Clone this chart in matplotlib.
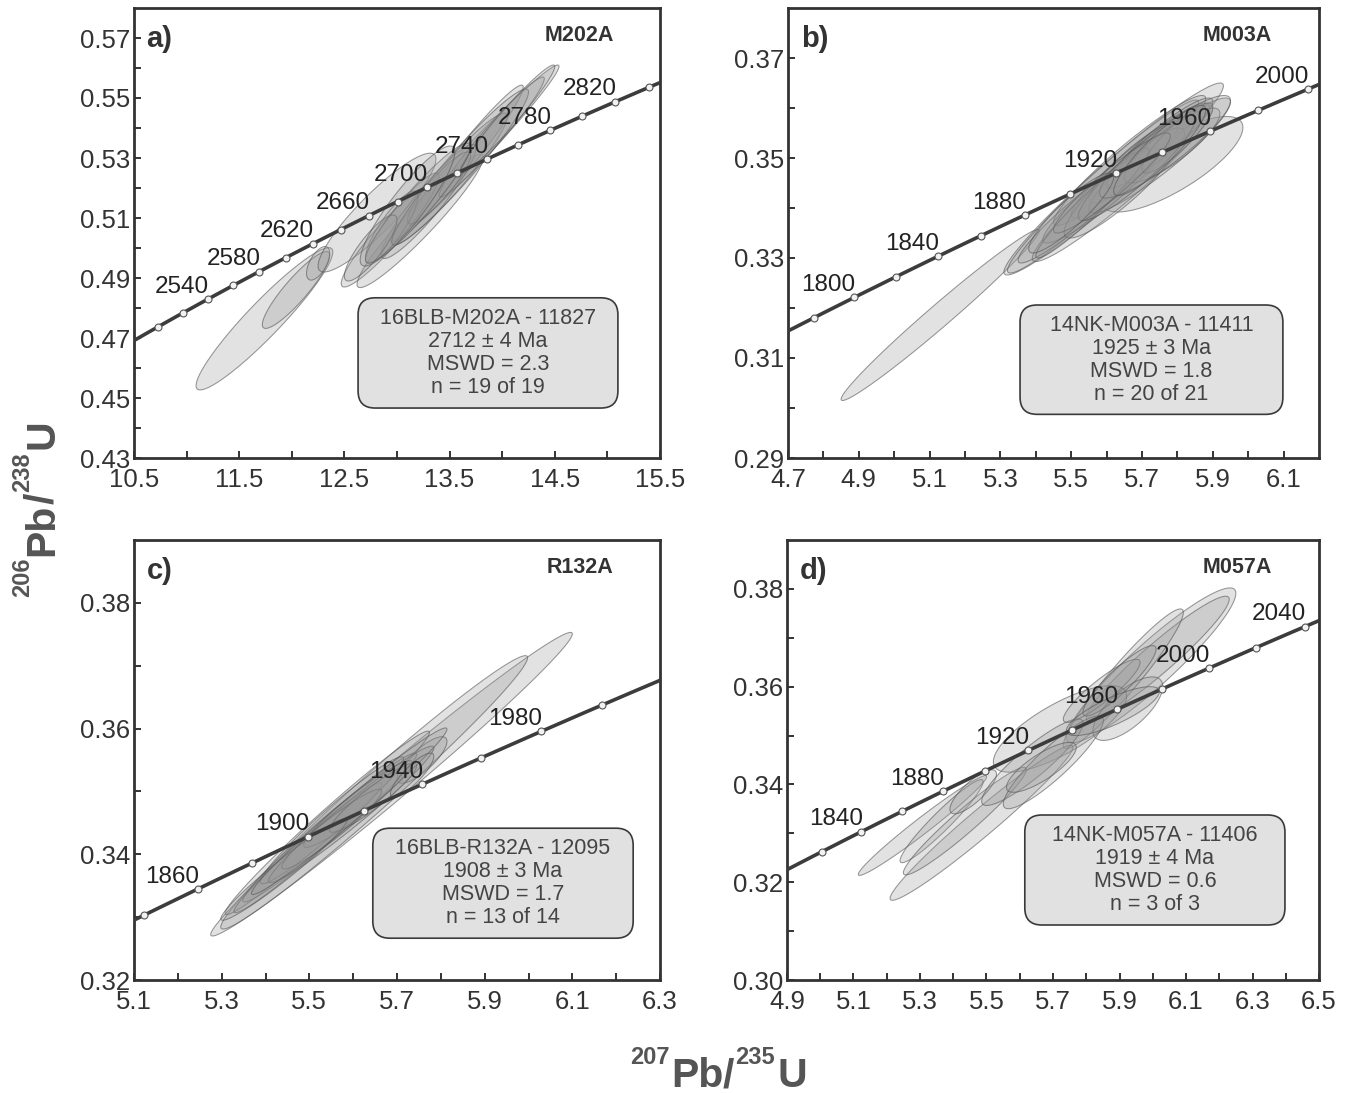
import numpy as np
import matplotlib
matplotlib.use("Agg")
import matplotlib.pyplot as plt
from matplotlib.patches import Polygon, FancyBboxPatch

plt.rcParams['font.family'] = ['Liberation Sans', 'DejaVu Sans']

# decay constants (per Ma)
L238 = 1.55125e-4
L235 = 9.8485e-4

# ---------------- panel a ----------------
a_xlim = (10.5, 15.5)
a_ylim = (0.43, 0.58)
a_xticks = [10.5, 11.5, 12.5, 13.5, 14.5, 15.5]
a_xminor = [11.0, 12.0, 13.0, 14.0, 15.0]
a_yticks = [0.43, 0.45, 0.47, 0.49, 0.51, 0.53, 0.55, 0.57]
a_yminor = [0.44, 0.46, 0.48, 0.50, 0.52, 0.54, 0.56]
a_marker_ages = [2500, 2520, 2540, 2560, 2580, 2600, 2620, 2640, 2660, 2680,
                 2700, 2720, 2740, 2760, 2780, 2800, 2820, 2840]
a_label_ages = [2540, 2580, 2620, 2660, 2700, 2740, 2780, 2820]
a_curve_ages = (2450, 2900)
a_ex = [11.74, 12.04, 12.25, 12.81, 12.89, 13.22, 13.74, 13.66, 13.50, 13.30,
        13.05, 13.90, 13.40, 12.95, 13.60, 14.05, 13.20, 12.75, 13.10]
a_esx = [0.65, 0.32, 0.11, 0.56, 0.42, 0.60, 0.80, 0.54, 0.55, 0.45,
         0.35, 0.50, 0.30, 0.25, 0.65, 0.45, 0.50, 0.25, 0.45]
a_ey = [0.4764, 0.4860, 0.4949, 0.5118, 0.5035, 0.5090, 0.5315, 0.5308, 0.5230, 0.5155,
        0.5100, 0.5370, 0.5200, 0.5070, 0.5270, 0.5430, 0.5150, 0.5000, 0.5140]
a_esy = [0.0237, 0.0128, 0.0056, 0.0198, 0.0165, 0.0222, 0.0295, 0.0235, 0.0220, 0.0190,
         0.0150, 0.0200, 0.0120, 0.0120, 0.0260, 0.0180, 0.0200, 0.0110, 0.0200]
a_rho = [0.94, 0.90, 0.60, 0.90, 0.93, 0.95, 0.985, 0.97, 0.95, 0.93,
         0.92, 0.97, 0.90, 0.85, 0.96, 0.97, 0.94, 0.85, 0.90]
a_tag = "a)"
a_sample = "M202A"
a_box_lines = ["16BLB-M202A - 11827", "2712 \u00b1 4 Ma", "MSWD = 2.3", "n = 19 of 19"]

# ---------------- panel b ----------------
b_xlim = (4.7, 6.2)
b_ylim = (0.29, 0.38)
b_xticks = [4.7, 4.9, 5.1, 5.3, 5.5, 5.7, 5.9, 6.1]
b_xminor = [4.8, 5.0, 5.2, 5.4, 5.6, 5.8, 6.0]
b_yticks = [0.29, 0.31, 0.33, 0.35, 0.37]
b_yminor = [0.30, 0.32, 0.34, 0.36]
b_marker_ages = [1780, 1800, 1820, 1840, 1860, 1880, 1900, 1920, 1940, 1960, 1980, 2000]
b_label_ages = [1800, 1840, 1880, 1920, 1960, 2000]
b_curve_ages = (1700, 2060)
b_ex = [5.13, 5.7855, 5.62, 5.59, 5.645, 5.665, 5.695, 5.675, 5.585, 5.525, 5.75,
        5.75, 5.65, 5.785, 5.56, 5.80, 5.685, 5.765, 5.615, 5.75, 5.50]
b_esx = [0.28, 0.1995, 0.31, 0.27, 0.255, 0.215, 0.195, 0.125, 0.165, 0.175, 0.20,
         0.15, 0.17, 0.135, 0.16, 0.10, 0.165, 0.185, 0.165, 0.13, 0.12]
b_ey = [0.3186, 0.34875, 0.3458, 0.3443, 0.3449, 0.3495, 0.3495, 0.3490, 0.3425, 0.3395, 0.3505,
        0.3530, 0.3450, 0.3525, 0.3410, 0.3540, 0.3480, 0.35225, 0.3450, 0.3515, 0.3390]
b_esy = [0.0171, 0.00955, 0.0192, 0.0173, 0.0156, 0.0130, 0.0115, 0.0080, 0.0095, 0.0105, 0.0115,
         0.0090, 0.0110, 0.0075, 0.0110, 0.0070, 0.0105, 0.01025, 0.0100, 0.0090, 0.0080]
b_rho = [0.985, 0.77, 0.97, 0.97, 0.96, 0.95, 0.94, 0.90, 0.93, 0.95, 0.93,
         0.92, 0.90, 0.85, 0.96, 0.88, 0.92, 0.90, 0.94, 0.90, 0.90]
b_tag = "b)"
b_sample = "M003A"
b_box_lines = ["14NK-M003A - 11411", "1925 \u00b1 3 Ma", "MSWD = 1.8", "n = 20 of 21"]

# ---------------- panel c ----------------
c_xlim = (5.1, 6.3)
c_ylim = (0.32, 0.39)
c_xticks = [5.1, 5.3, 5.5, 5.7, 5.9, 6.1, 6.3]
c_xminor = [5.2, 5.4, 5.6, 5.8, 6.0, 6.2]
c_yticks = [0.32, 0.34, 0.36, 0.38]
c_yminor = [0.33, 0.35, 0.37]
c_marker_ages = [1840, 1860, 1880, 1900, 1920, 1940, 1960, 1980, 2000]
c_label_ages = [1860, 1900, 1940, 1980]
c_curve_ages = (1800, 2060)
c_ex = [5.6875, 5.648, 5.757, 5.541, 5.5465, 5.4965, 5.5515, 5.5955, 5.611, 5.551,
        5.6455, 5.442, 5.591, 5.7345]
c_esx = [0.4125, 0.350, 0.057, 0.233, 0.1985, 0.1685, 0.1635, 0.1885, 0.124, 0.114,
         0.0995, 0.144, 0.223, 0.0495]
c_ey = [0.35115, 0.34985, 0.3550, 0.3450, 0.34425, 0.34105, 0.3454, 0.34635, 0.3480, 0.3440,
        0.3490, 0.3376, 0.34685, 0.3526]
c_esy = [0.02415, 0.02175, 0.0037, 0.0146, 0.01185, 0.01035, 0.0101, 0.01085, 0.0069, 0.00635,
         0.0055, 0.0081, 0.01325, 0.0035]
c_rho = [0.99, 0.985, 0.80, 0.985, 0.98, 0.98, 0.97, 0.975, 0.95, 0.95,
         0.93, 0.97, 0.985, 0.85]
c_tag = "c)"
c_sample = "R132A"
c_box_lines = ["16BLB-R132A - 12095", "1908 \u00b1 3 Ma", "MSWD = 1.7", "n = 13 of 14"]

# ---------------- panel d ----------------
d_xlim = (4.9, 6.5)
d_ylim = (0.30, 0.39)
d_xticks = [4.9, 5.1, 5.3, 5.5, 5.7, 5.9, 6.1, 6.3, 6.5]
d_xminor = [5.0, 5.2, 5.4, 5.6, 5.8, 6.0, 6.2, 6.4]
d_yticks = [0.30, 0.32, 0.34, 0.36, 0.38]
d_yminor = [0.31, 0.33, 0.35, 0.37]
d_marker_ages = [1820, 1840, 1860, 1880, 1900, 1920, 1940, 1960, 1980, 2000, 2020, 2040]
d_label_ages = [1840, 1880, 1920, 1960, 2000, 2040]
d_curve_ages = (1780, 2100)
d_ex = [5.995, 6.015, 5.9115, 5.7211, 5.925, 5.3075, 5.485, 5.365, 5.435, 5.46,
        5.638, 5.701, 5.665, 5.8465, 5.90, 5.88]
d_esx = [0.255, 0.215, 0.1805, 0.2005, 0.105, 0.193, 0.275, 0.125, 0.185, 0.07,
         0.1525, 0.1504, 0.105, 0.1155, 0.11, 0.14]
d_ey = [0.36435, 0.36575, 0.3616, 0.35136, 0.3555, 0.3316, 0.33215, 0.3325, 0.3325, 0.3385,
        0.34455, 0.34454, 0.3435, 0.35915, 0.3612, 0.3550]
d_esy = [0.01585, 0.01275, 0.0143, 0.00885, 0.0065, 0.0102, 0.01585, 0.0085, 0.0110, 0.0045,
         0.00885, 0.0095, 0.0051, 0.00645, 0.0072, 0.0050]
d_rho = [0.93, 0.95, 0.95, 0.76, 0.70, 0.98, 0.975, 0.95, 0.96, 0.80,
         0.90, 0.90, 0.80, 0.90, 0.90, 0.80]
d_tag = "d)"
d_sample = "M057A"
d_box_lines = ["14NK-M057A - 11406", "1919 \u00b1 4 Ma", "MSWD = 0.6", "n = 3 of 3"]

# ---------------- layout (pixels) ----------------
W, H = 1348, 1093
DARK = '#333333'
LABEL_COL = '#555555'

fig = plt.figure(figsize=(W / 100, H / 100), dpi=100)


def add_axes_px(l, r, t, b):
    return fig.add_axes([l / W, (H - b) / H, (r - l) / W, (b - t) / H])


def concordia(t):
    t = np.asarray(t, dtype=float)
    return np.exp(L235 * t) - 1.0, np.exp(L238 * t) - 1.0


def draw_panel(ax, xlim, ylim, xticks, xminor, yticks, yminor, xfmt, yfmt,
               marker_ages, label_ages, curve_ages, ex, esx, ey, esy, rho,
               tag, sample, box_lines, box):
    ax.set_xlim(*xlim)
    ax.set_ylim(*ylim)
    # ellipses
    tt = np.linspace(0, 2 * np.pi, 240)
    for x0, sx, y0, sy, r in zip(ex, esx, ey, esy, rho):
        xs = x0 + sx * np.cos(tt)
        ys = y0 + sy * (r * np.cos(tt) + np.sqrt(1 - r * r) * np.sin(tt))
        ax.add_patch(Polygon(np.column_stack([xs, ys]), closed=True,
                             facecolor=(0.60, 0.60, 0.60, 0.28),
                             edgecolor=(0.33, 0.33, 0.33, 0.60),
                             lw=0.75, zorder=2))
    # concordia
    ages = np.linspace(curve_ages[0], curve_ages[1], 400)
    cx, cy = concordia(ages)
    ax.plot(cx, cy, color='#3c3c3c', lw=2.6, zorder=3, solid_capstyle='butt')
    mx, my = concordia(marker_ages)
    ax.plot(mx, my, 'o', ms=5, mfc='#f2f2f2', mec='#555555', mew=0.8, zorder=4)
    lx, ly = concordia(label_ages)
    for a, x, y in zip(label_ages, lx, ly):
        ax.annotate(str(a), (x, y), xytext=(1, 1), textcoords='offset points',
                    ha='right', va='bottom', fontsize=17.5, color='#222222', zorder=5)
    # ticks
    ax.set_xticks(xticks)
    ax.set_xticks(xminor, minor=True)
    ax.set_yticks(yticks)
    ax.set_yticks(yminor, minor=True)
    ax.set_xticklabels([xfmt.format(v) for v in xticks])
    ax.set_yticklabels([yfmt.format(v) for v in yticks])
    ax.tick_params(which='both', direction='in', length=5, width=1.4, color=DARK,
                   top=False, right=False)
    ax.tick_params(axis='both', which='major', labelsize=18.5, labelcolor=DARK)
    ax.tick_params(axis='x', which='major', pad=7)
    ax.tick_params(axis='y', which='major', pad=3)
    for sp in ax.spines.values():
        sp.set_linewidth(2.0)
        sp.set_color(DARK)
    # tags
    ax.text(0.024, 0.962, tag, transform=ax.transAxes, ha='left', va='top',
            fontsize=21, fontweight='bold', color=DARK, zorder=6)
    ax.text(0.912, 0.962, sample, transform=ax.transAxes, ha='right', va='top',
            fontsize=15.5, fontweight='bold', color=DARK, zorder=6)
    # summary box
    x0, x1, y0, y1 = box
    pw = ax.get_position().width * W
    ph = ax.get_position().height * H
    rpx = 17.0
    patch = FancyBboxPatch((x0, y0), x1 - x0, y1 - y0, transform=ax.transAxes,
                           boxstyle="round,pad=0,rounding_size=%f" % (rpx / pw),
                           mutation_aspect=pw / ph,
                           facecolor='#e1e1e1', edgecolor='#3a3a3a', lw=1.2, zorder=6)
    ax.add_patch(patch)
    xc = (x0 + x1) / 2
    yc = (y0 + y1) / 2
    step = 23.0 / ph
    n = len(box_lines)
    for i, line in enumerate(box_lines):
        yy = yc + (n - 1) / 2 * step - i * step
        ax.text(xc, yy, line, transform=ax.transAxes, ha='center', va='center',
                fontsize=15.5, color='#444444', zorder=7)


ax_a = add_axes_px(134, 660, 8, 458)
ax_b = add_axes_px(788, 1319, 8, 458)
ax_c = add_axes_px(134, 660, 540, 980)
ax_d = add_axes_px(787, 1319, 540, 980)

draw_panel(ax_a, a_xlim, a_ylim, a_xticks, a_xminor, a_yticks, a_yminor, "{:.1f}", "{:.2f}",
           a_marker_ages, a_label_ages, a_curve_ages, a_ex, a_esx, a_ey, a_esy, a_rho,
           a_tag, a_sample, a_box_lines, (0.426, 0.920, 0.111, 0.356))
draw_panel(ax_b, b_xlim, b_ylim, b_xticks, b_xminor, b_yticks, b_yminor, "{:.1f}", "{:.2f}",
           b_marker_ages, b_label_ages, b_curve_ages, b_ex, b_esx, b_ey, b_esy, b_rho,
           b_tag, b_sample, b_box_lines, (0.437, 0.932, 0.097, 0.340))
draw_panel(ax_c, c_xlim, c_ylim, c_xticks, c_xminor, c_yticks, c_yminor, "{:.1f}", "{:.2f}",
           c_marker_ages, c_label_ages, c_curve_ages, c_ex, c_esx, c_ey, c_esy, c_rho,
           c_tag, c_sample, c_box_lines, (0.454, 0.949, 0.095, 0.345))
draw_panel(ax_d, d_xlim, d_ylim, d_xticks, d_xminor, d_yticks, d_yminor, "{:.1f}", "{:.2f}",
           d_marker_ages, d_label_ages, d_curve_ages, d_ex, d_esx, d_ey, d_esy, d_rho,
           d_tag, d_sample, d_box_lines, (0.447, 0.936, 0.125, 0.375))

# ---------------- axis titles built from pieces ----------------
renderer = fig.canvas.get_renderer()


def rich_label(pieces, start, base, raise_px, vertical):
    pos = start
    for s, size, sup, gap in pieces:
        tmp = fig.text(0, 0, s, fontsize=size, fontweight='bold')
        w = tmp.get_window_extent(renderer=renderer).width
        tmp.remove()
        off = raise_px if sup else 0.0
        if vertical:
            fig.text((base - off) / W, pos / H, s, fontsize=size, fontweight='bold',
                     color=LABEL_COL, rotation=90, rotation_mode='anchor',
                     ha='left', va='baseline')
        else:
            fig.text(pos / W, (base + off) / H, s, fontsize=size, fontweight='bold',
                     color=LABEL_COL, ha='left', va='baseline')
        pos += w + gap


MAIN, SUP = 29.5, 17
y_pieces = [("206", SUP, True, 2), ("Pb", MAIN, False, -1), ("/", MAIN, False, 1),
            ("238", SUP, True, 3), ("U", MAIN, False, 0)]
x_pieces = [("207", SUP, True, 2), ("Pb", MAIN, False, -1), ("/", MAIN, False, 1),
            ("235", SUP, True, 3), ("U", MAIN, False, 0)]
rich_label(y_pieces, start=H - 597, base=53, raise_px=24, vertical=True)
rich_label(x_pieces, start=630, base=H - 1087, raise_px=23, vertical=False)

fig.savefig("out.png", dpi=100)
